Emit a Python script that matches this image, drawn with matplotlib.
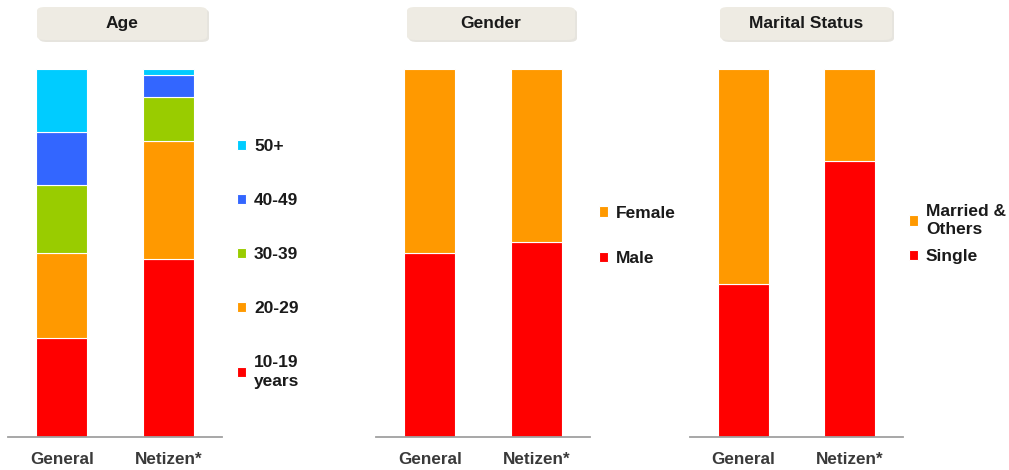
import matplotlib
matplotlib.use("Agg")
import matplotlib.pyplot as plt
from matplotlib.patches import FancyBboxPatch

plt.rcParams['font.family'] = ['Liberation Sans', 'DejaVu Sans']
plt.rcParams['font.weight'] = 'bold'

# data (percent of each group)
groups = ['General', 'Netizen*']

age_labels = ['10-19\nyears', '20-29', '30-39', '40-49', '50+']
age_general = [26.9, 23.1, 18.6, 14.3, 17.1]
age_netizen = [48.5, 32.0, 12.0, 6.0, 1.5]
age_colors = ['#ff0000', '#ff9900', '#99cc00', '#3366ff', '#00ccff']

gender_labels = ['Male', 'Female']
gender_general = [49.9, 50.1]
gender_netizen = [53.0, 47.0]

marital_labels = ['Single', 'Married &\nOthers']
marital_general = [41.7, 58.3]
marital_netizen = [75.1, 24.9]

two_colors = ['#ff0000', '#ff9900']

W, H = 1009, 470
fig = plt.figure(figsize=(W / 100, H / 100), dpi=100)


def px_axes(x0, x1, y_top, y_base):
    return fig.add_axes([x0 / W, 1 - y_base / H, (x1 - x0) / W, (y_base - y_top) / H])


def stacked(ax, general, netizen, labels, colors):
    bottoms = [0, 0]
    handles = []
    for i in range(len(labels)):
        vals = [general[i], netizen[i]]
        h = ax.bar([0, 1], vals, width=0.48, bottom=bottoms, color=colors[i],
                   edgecolor='white', linewidth=0.8, label=labels[i])
        handles.append(h)
        bottoms = [bottoms[0] + vals[0], bottoms[1] + vals[1]]
    ax.set_xlim(-0.505, 1.505)
    ax.set_ylim(0, 100)
    ax.set_xticks([0, 1])
    ax.set_xticklabels(groups, fontsize=12.3, fontweight='bold', color='#3a3a3a')
    ax.tick_params(axis='x', length=0, pad=11)
    ax.set_yticks([])
    for s in ['top', 'left', 'right']:
        ax.spines[s].set_visible(False)
    ax.spines['bottom'].set_color('#a0a0a0')
    ax.spines['bottom'].set_linewidth(1.3)
    return handles


def legend(ax, handles, labels, x, y, spacing):
    leg = ax.legend(handles[::-1], labels[::-1], loc='center left',
                    bbox_to_anchor=(x / W, 1 - y / H), bbox_transform=fig.transFigure,
                    frameon=False, borderpad=0, handlelength=0.55, handleheight=0.55,
                    handletextpad=0.45, labelspacing=spacing,
                    prop={'size': 12.5, 'weight': 'bold'}, labelcolor='#1a1a1a')
    for t in leg.get_texts():
        t.set_linespacing(1.3)
    return leg


def title_box(cx, text, w=170):
    x0, y0, h = cx - w / 2, 7, 33
    shadow = FancyBboxPatch(((x0 + 2) / W, 1 - (y0 + h + 2) / H), w / W, h / H,
                            boxstyle='round,pad=0,rounding_size=0.008',
                            transform=fig.transFigure, facecolor='#e6e4de',
                            edgecolor='none', zorder=1)
    box = FancyBboxPatch((x0 / W, 1 - (y0 + h) / H), w / W, h / H,
                         boxstyle='round,pad=0,rounding_size=0.008',
                         transform=fig.transFigure, facecolor='#eeebe3',
                         edgecolor='none', zorder=2)
    fig.patches.extend([shadow, box])
    fig.text(cx / W, 1 - (y0 + h / 2) / H, text, ha='center', va='center',
             fontsize=12.5, fontweight='bold', color='#1a1a1a', zorder=3)


ax1 = px_axes(8, 222, 69, 437)
h1 = stacked(ax1, age_general, age_netizen, age_labels, age_colors)
legend(ax1, h1, age_labels, 228, 264, 2.25)

ax2 = px_axes(376, 590, 69, 437)
h2 = stacked(ax2, gender_general, gender_netizen, gender_labels, two_colors)
legend(ax2, h2, gender_labels, 590, 236, 1.75)

ax3 = px_axes(690, 903, 69, 437)
h3 = stacked(ax3, marital_general, marital_netizen, marital_labels, two_colors)
legend(ax3, h3, marital_labels, 900, 234, 0.7)

title_box(122, 'Age')
title_box(491, 'Gender', 168)
title_box(806, 'Marital Status', 172)

fig.savefig('out.png', dpi=100)
